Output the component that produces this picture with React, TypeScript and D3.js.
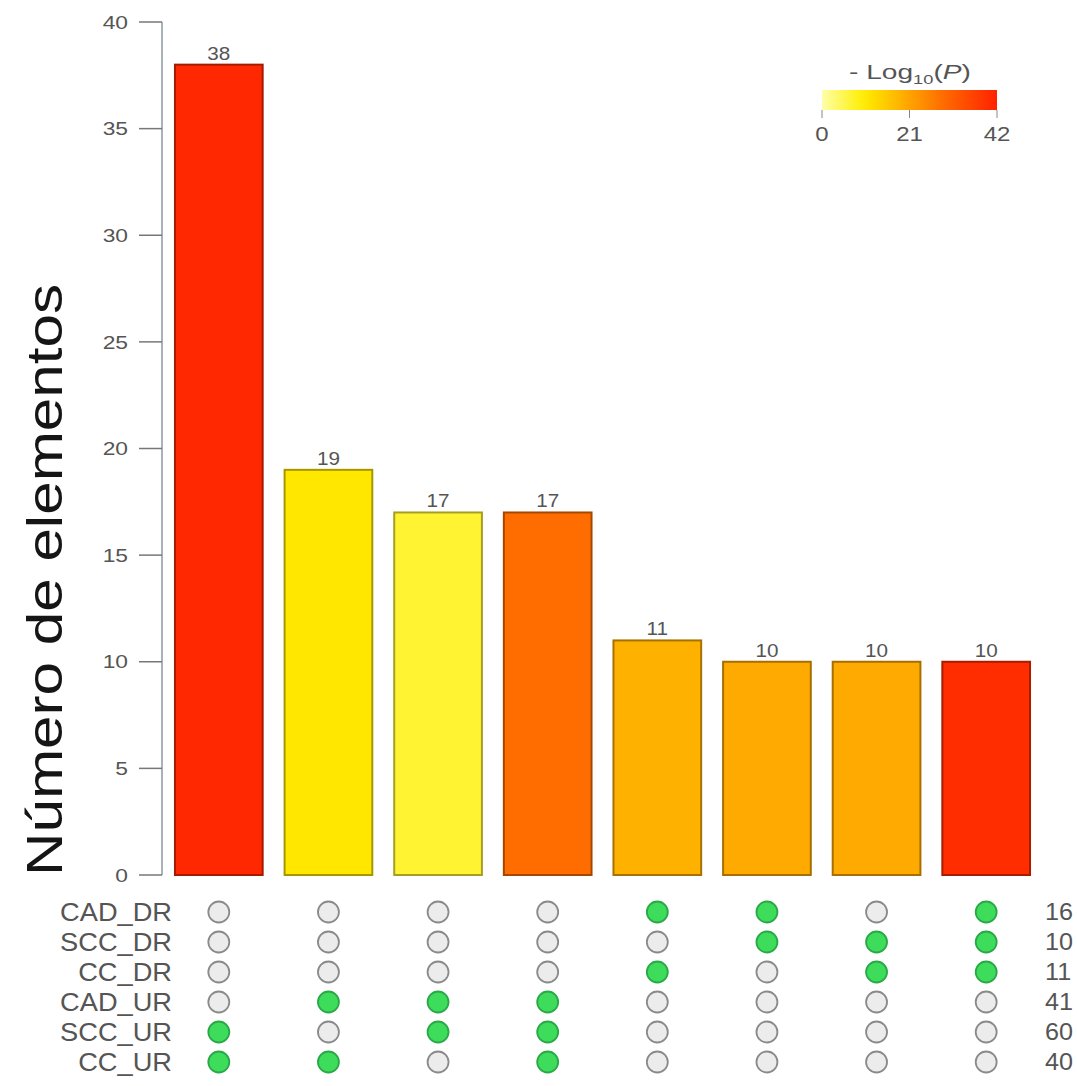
import React from "react";
import * as d3 from "d3";

const counts = [38, 19, 17, 17, 11, 10, 10, 10];
const logP = [41, 11, 7, 29, 19, 20, 20, 40];
const setNames = ["CAD_DR", "SCC_DR", "CC_DR", "CAD_UR", "SCC_UR", "CC_UR"];
const setSizes = [16, 10, 11, 41, 60, 40];
const memberships = [
  ["SCC_UR", "CC_UR"],
  ["CAD_UR", "CC_UR"],
  ["CAD_UR", "SCC_UR"],
  ["CAD_UR", "SCC_UR", "CC_UR"],
  ["CAD_DR", "CC_DR"],
  ["CAD_DR", "SCC_DR"],
  ["SCC_DR", "CC_DR"],
  ["CAD_DR", "SCC_DR", "CC_DR"],
];
const yTicks = [0, 5, 10, 15, 20, 25, 30, 35, 40];
const legendTicks = [0, 21, 42];

const W = 1077;
const H = 1086;
const FONT = "Liberation Sans, Arial, sans-serif";
const GRAY = "#555";

function T({ x, y, sx = 1.2, anchor = "middle", size = 19, fill = GRAY, dy = "0.35em", children }: any) {
  return (
    <text
      transform={`translate(${x},${y}) scale(${sx},1)`}
      textAnchor={anchor}
      dy={dy}
      fontFamily={FONT}
      fontSize={size}
      fill={fill}
    >
      {children}
    </text>
  );
}

export default function App() {
  const y = d3.scaleLinear().domain([0, 40]).range([875, 22]);
  const x = d3
    .scaleBand<number>()
    .domain(d3.range(counts.length))
    .range([164, 1041])
    .paddingInner(0.2)
    .paddingOuter(0.1);
  const color = d3
    .scaleLinear<string>()
    .domain([0, 10, 20, 30, 42])
    .range(["#ffffa8", "#ffee00", "#ffaa00", "#ff6600", "#ff2200"])
    .interpolate(d3.interpolateRgb);
  const rowY = d3.scalePoint<string>().domain(setNames).range([912, 1062]);
  const leg = d3.scaleLinear().domain([0, 42]).range([822, 997]);
  const stops = d3.range(0, 43, 3);

  return (
    <svg width={W} height={H} style={{ display: "block", position: "absolute", left: 0, top: 0 }}>
      <rect width={W} height={H} fill="#fff" />
      <defs>
        <linearGradient id="lg" x1="0" x2="1" y1="0" y2="0">
          {stops.map((s) => (
            <stop key={s} offset={s / 42} stopColor={color(s)} />
          ))}
        </linearGradient>
      </defs>
      {/* y axis */}
      <line x1={162} x2={162} y1={y(0)} y2={y(40)} stroke="#8a9aa0" strokeWidth={1.5} />
      {yTicks.map((t) => (
        <g key={t}>
          <line x1={139} x2={162} y1={y(t)} y2={y(t)} stroke="#777" strokeWidth={1.5} />
          <T x={128} y={y(t)} anchor="end" size={19} sx={1.2}>
            {t}
          </T>
        </g>
      ))}
      <text
        transform={`translate(62,${580}) rotate(-90)`}
        textAnchor="middle"
        fontFamily={FONT}
        fontSize={50}
        fill="#151515"
        textLength={592}
        lengthAdjust="spacingAndGlyphs"
      >
        Número  de  elementos
      </text>
      {/* bars */}
      {counts.map((c, i) => {
        const f = color(logP[i]);
        return (
          <g key={i}>
            <rect
              x={x(i)}
              y={y(c)}
              width={x.bandwidth()}
              height={y(0) - y(c)}
              fill={f}
              stroke={d3.color(f)!.darker(1.2).formatHex()}
              strokeWidth={2}
            />
            <T x={x(i)! + x.bandwidth() / 2} y={y(c) - 5} size={18} sx={1.15} dy="0">
              {c}
            </T>
          </g>
        );
      })}
      {/* matrix */}
      {setNames.map((s, r) => (
        <g key={s}>
          <T x={172} y={rowY(s)} anchor="end" size={25} sx={1.09}>
            {s}
          </T>
          <T x={1045} y={rowY(s)} anchor="start" size={24} sx={1.05}>
            {setSizes[r]}
          </T>
          {memberships.map((m, i) => {
            const on = m.includes(s);
            return (
              <circle
                key={i}
                cx={x(i)! + x.bandwidth() / 2}
                cy={rowY(s)}
                r={10.5}
                fill={on ? "#3ddc5a" : "#ececec"}
                stroke={on ? "#2aa848" : "#8a8a8a"}
                strokeWidth={1.8}
              />
            );
          })}
        </g>
      ))}
      {/* legend */}
      <rect x={leg(0)} y={90} width={leg(42) - leg(0)} height={20} fill="url(#lg)" />
      <text
        x={910}
        y={79}
        textAnchor="middle"
        fontFamily={FONT}
        fontSize={20}
        fill={GRAY}
        textLength={122}
        lengthAdjust="spacingAndGlyphs"
      >
        - Log
        <tspan fontSize={13} dy={5}>10</tspan>
        <tspan dy={-5}>(</tspan>
        <tspan fontStyle="italic">P</tspan>
        <tspan>)</tspan>
      </text>
      {legendTicks.map((t) => (
        <g key={t}>
          <line x1={leg(t)} x2={leg(t)} y1={110} y2={118} stroke="#888" />
          <T x={leg(t)} y={134} size={20} sx={1.2}>
            {t}
          </T>
        </g>
      ))}
    </svg>
  );
}
